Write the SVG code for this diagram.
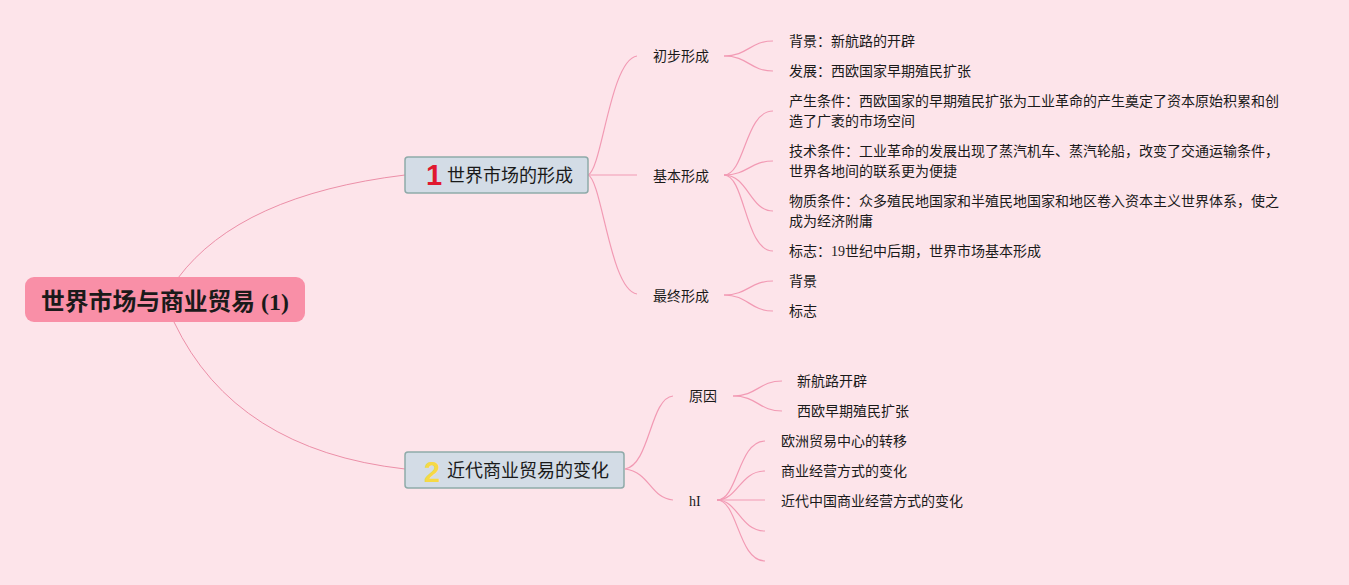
<svg xmlns="http://www.w3.org/2000/svg" width="1349" height="585" viewBox="0 0 1349 585">
<style>
.bg{fill:#fde4ea}
.ln{fill:none;stroke:#f29ab4;stroke-width:1.2}
.ln0{fill:none;stroke:#ec8fa8;stroke-width:1}
.root{fill:#f98fa7}
.rt{font-family:'Liberation Serif','Noto Sans CJK SC',serif;font-weight:bold;font-size:23.8px;fill:#1a1a1a}
.box{fill:#d3dce6;stroke:#8eaaa9;stroke-width:1.5}
.mt{font-family:'Liberation Serif','Noto Sans CJK SC',serif;font-size:18px;fill:#1a1a1a}
.num{font-family:'Liberation Sans','Noto Sans',sans-serif;font-weight:bold;font-size:29px}
.t{font-family:'Liberation Serif','Noto Sans CJK SC',serif;font-size:14px;fill:#1a1a1a}
</style>
<rect class="bg" x="0" y="0" width="1349" height="585"/>
<g id="connectors">
<path class="ln0" d="M178,278 Q240,195 405,175"/>
<path class="ln0" d="M174,322 Q235,450 405,469"/>
<path class="ln" d="M588,175 C602,170 610,60 637,56"/>
<path class="ln" d="M588,175 L637,175"/>
<path class="ln" d="M588,175 C602,180 610,290 637,294"/>
<path class="ln" d="M724,56 C748,56 750,41 773,41"/>
<path class="ln" d="M724,56 C748,56 750,71 773,71"/>
<path class="ln" d="M724,175 C745,175 745,111 773,111"/>
<path class="ln" d="M724,175 C748,175 750,161 773,161"/>
<path class="ln" d="M724,175 C748,175 750,211 773,211"/>
<path class="ln" d="M724,175 C745,175 745,251 773,251"/>
<path class="ln" d="M724,295 C748,295 750,281 773,281"/>
<path class="ln" d="M724,295 C748,295 750,311 773,311"/>
<path class="ln" d="M625,469 C650,465 650,398 673,396"/>
<path class="ln" d="M625,469 C650,472 650,498 673,500"/>
<path class="ln" d="M733,396 C757,396 759,381 782,381"/>
<path class="ln" d="M733,396 C757,396 759,411 782,411"/>
<path class="ln" d="M717,500 C738,500 738,441 765,441"/>
<path class="ln" d="M717,500 C738,500 740,471 765,471"/>
<path class="ln" d="M717,500 L765,500"/>
<path class="ln" d="M717,500 C738,500 740,531 765,531"/>
<path class="ln" d="M717,500 C738,500 738,561 765,561"/>
</g>
<g id="root">
<rect class="root" x="25" y="277" width="280" height="45" rx="9"/>
<text class="rt" x="41" y="310">世界市场与商业贸易 (1)</text>
</g>
<g id="n1">
<rect class="box" x="405" y="157" width="183" height="36" rx="3"/>
<text class="num" x="426" y="185" fill="#e0182f">1</text>
<text class="mt" x="447" y="182">世界市场的形成</text>
</g>
<g id="n2">
<rect class="box" x="405" y="452" width="219" height="36" rx="3"/>
<text class="num" x="424" y="482" fill="#f6d945">2</text>
<text class="mt" x="447" y="477">近代商业贸易的变化</text>
</g>
<g id="n1a"><text class="t" x="653" y="61">初步形成</text></g>
<g id="n1b"><text class="t" x="653" y="181">基本形成</text></g>
<g id="n1c"><text class="t" x="653" y="301">最终形成</text></g>
<g id="n1a1"><text class="t" x="789" y="46">背景：新航路的开辟</text></g>
<g id="n1a2"><text class="t" x="789" y="76">发展：西欧国家早期殖民扩张</text></g>
<g id="n1b1"><text class="t" x="789" y="106">产生条件：西欧国家的早期殖民扩张为工业革命的产生奠定了资本原始积累和创</text><text class="t" x="789" y="126">造了广袤的市场空间</text></g>
<g id="n1b2"><text class="t" x="789" y="156">技术条件：工业革命的发展出现了蒸汽机车、蒸汽轮船，改变了交通运输条件，</text><text class="t" x="789" y="176">世界各地间的联系更为便捷</text></g>
<g id="n1b3"><text class="t" x="789" y="206">物质条件：众多殖民地国家和半殖民地国家和地区卷入资本主义世界体系，使之</text><text class="t" x="789" y="226">成为经济附庸</text></g>
<g id="n1b4"><text class="t" x="789" y="256">标志：19世纪中后期，世界市场基本形成</text></g>
<g id="n1c1"><text class="t" x="789" y="286">背景</text></g>
<g id="n1c2"><text class="t" x="789" y="316">标志</text></g>
<g id="n2a"><text class="t" x="689" y="401">原因</text></g>
<g id="n2b"><text class="t" x="689" y="506">hI</text></g>
<g id="n2a1"><text class="t" x="797" y="386">新航路开辟</text></g>
<g id="n2a2"><text class="t" x="797" y="416">西欧早期殖民扩张</text></g>
<g id="n2b1"><text class="t" x="781" y="446">欧洲贸易中心的转移</text></g>
<g id="n2b2"><text class="t" x="781" y="476">商业经营方式的变化</text></g>
<g id="n2b3"><text class="t" x="781" y="506">近代中国商业经营方式的变化</text></g>
</svg>
